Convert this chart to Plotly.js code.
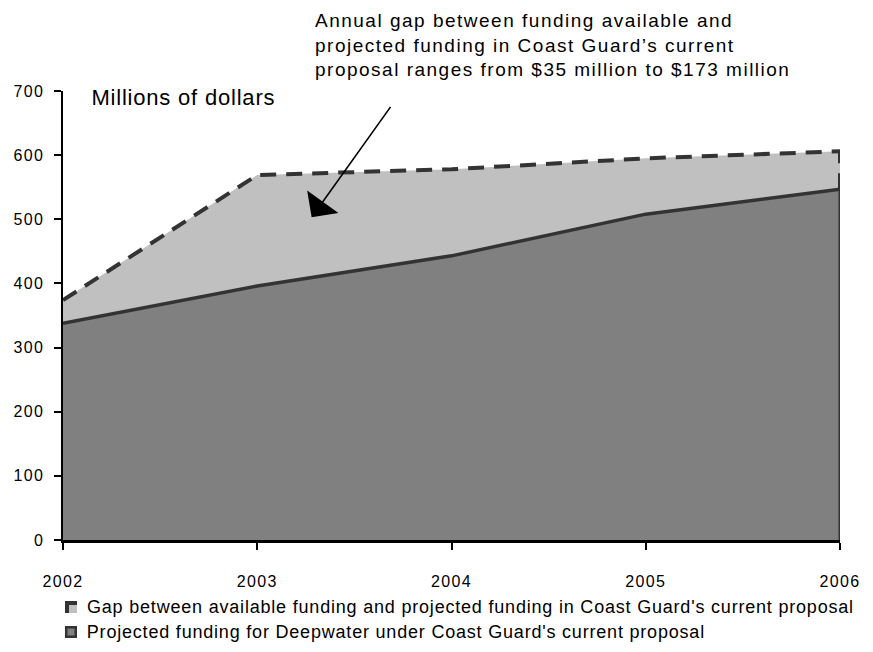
<!DOCTYPE html>
<html>
<head>
<meta charset="utf-8">
<script src="https://cdn.plot.ly/plotly-3.0.1.min.js"></script>
<style>
html,body{margin:0;padding:0;background:#fff;}
#chart{width:873px;height:652px;}
#chart .xtick text, #chart .ytick text{letter-spacing:1.4px;}
#chart g.annotation[data-index="0"] text{letter-spacing:0.8px;}
#chart g.annotation[data-index="1"] text{letter-spacing:1.5px;}
#chart g.annotation[data-index="3"] text, #chart g.annotation[data-index="4"] text{letter-spacing:0.8px;}
</style>
</head>
<body>
<div id="chart"></div>
<script>
// Data (millions of dollars)
const years = [2002, 2003, 2004, 2005, 2006];
const projectedFunding = [338, 396, 443, 508, 547];
const fundingGap = [36, 173, 135, 87, 59];
const yTickVals = [0, 100, 200, 300, 400, 500, 600, 700];

const legendLabels = [
  "Gap between available funding and projected funding in Coast Guard's current proposal",
  "Projected funding for Deepwater under Coast Guard's current proposal"
];
const unitLabel = 'Millions of dollars';
const calloutText = 'Annual gap between funding available and<br>projected funding in Coast Guard\u2019s current<br>proposal ranges from $35 million to $173 million';

const topLine = projectedFunding.map((v, i) => v + fundingGap[i]);
const last = years.length - 1;

const FONT = 'Liberation Sans, Arial, Helvetica, sans-serif';
const DARK = '#333333';
// compensation for CSS letter-spacing on centred single-line annotations
const spaceShift = (s, sp) => s.length * sp / 2;

const traces = [
  {
    x: years, y: projectedFunding, type: 'scatter', mode: 'lines',
    stackgroup: 'one', fillcolor: '#808080',
    line: {color: DARK, width: 3.5},
    name: legendLabels[1], hoverinfo: 'x+y'
  },
  {
    x: years, y: fundingGap, type: 'scatter', mode: 'lines',
    stackgroup: 'one', fillcolor: '#c0c0c0',
    line: {color: DARK, width: 4, dash: '16px,10px'},
    name: legendLabels[0], hoverinfo: 'x+y'
  },
  // right-hand closing edges of the two areas
  {
    x: [years[last], years[last]], y: [0, projectedFunding[last]],
    type: 'scatter', mode: 'lines', line: {color: DARK, width: 3},
    showlegend: false, hoverinfo: 'skip'
  },
  {
    x: [years[last], years[last]], y: [projectedFunding[last], topLine[last]],
    type: 'scatter', mode: 'lines', line: {color: DARK, width: 4, dash: '16px,10px'},
    showlegend: false, hoverinfo: 'skip'
  }
];

const px = v => (v - 63) / 777;
const py = v => (540 - v) / 449;

const layout = {
  width: 873, height: 652,
  margin: {l: 63, r: 33, t: 91, b: 112},
  paper_bgcolor: '#ffffff', plot_bgcolor: '#ffffff',
  showlegend: false,
  font: {family: FONT, color: '#000', size: 16},
  xaxis: {
    range: [years[0], years[last]], tickmode: 'array', tickvals: years,
    ticktext: years.map(String),
    showgrid: false, zeroline: false,
    showline: true, linecolor: '#000', linewidth: 2.5,
    ticks: 'outside', ticklen: 7, tickwidth: 2, tickcolor: '#000',
    ticklabelstandoff: 18,
    tickfont: {family: FONT, size: 16, color: '#000'}, fixedrange: true
  },
  yaxis: {
    range: [0, 700], tickmode: 'array', tickvals: yTickVals,
    showgrid: false, zeroline: false,
    showline: true, linecolor: '#000', linewidth: 2.5,
    ticks: 'outside', ticklen: 7, tickwidth: 2, tickcolor: '#000',
    ticklabelstandoff: 6,
    tickfont: {family: FONT, size: 16, color: '#000'}, fixedrange: true
  },
  annotations: [
    {
      xref: 'paper', yref: 'paper', x: px(89), y: py(97),
      xanchor: 'left', yanchor: 'middle', showarrow: false,
      xshift: spaceShift(unitLabel, 0.8),
      text: unitLabel, font: {family: FONT, size: 22, color: '#000'}
    },
    {
      xref: 'paper', yref: 'paper', x: px(313), y: py(45),
      xanchor: 'left', yanchor: 'middle', align: 'left', showarrow: false,
      text: calloutText,
      font: {family: FONT, size: 19, color: '#000'}
    },
    {
      xref: 'x', yref: 'y', x: 2003.28, y: 503,
      ax: 80, ay: -112, axref: 'pixel', ayref: 'pixel',
      text: '', showarrow: true, arrowhead: 1, arrowsize: 4, arrowwidth: 1.6, arrowcolor: '#000'
    },
    {
      xref: 'paper', yref: 'paper', x: px(85), y: py(607),
      xanchor: 'left', yanchor: 'middle', showarrow: false,
      xshift: spaceShift(legendLabels[0], 0.8),
      text: legendLabels[0], font: {family: FONT, size: 18, color: '#000'}
    },
    {
      xref: 'paper', yref: 'paper', x: px(85), y: py(632),
      xanchor: 'left', yanchor: 'middle', showarrow: false,
      xshift: spaceShift(legendLabels[1], 0.8),
      text: legendLabels[1], font: {family: FONT, size: 18, color: '#000'}
    }
  ],
  shapes: [
    {type: 'rect', xref: 'paper', yref: 'paper', x0: px(65), x1: px(77), y0: py(601), y1: py(613), fillcolor: DARK, line: {width: 0}},
    {type: 'rect', xref: 'paper', yref: 'paper', x0: px(69), x1: px(77), y0: py(605), y1: py(613), fillcolor: '#c0c0c0', line: {width: 0}},
    {type: 'rect', xref: 'paper', yref: 'paper', x0: px(65), x1: px(77), y0: py(626), y1: py(638), fillcolor: DARK, line: {width: 0}},
    {type: 'rect', xref: 'paper', yref: 'paper', x0: px(67.5), x1: px(74.5), y0: py(628.5), y1: py(635.5), fillcolor: '#808080', line: {width: 0}}
  ]
};

Plotly.newPlot('chart', traces, layout, {displayModeBar: false, staticPlot: true});
</script>
</body>
</html>
